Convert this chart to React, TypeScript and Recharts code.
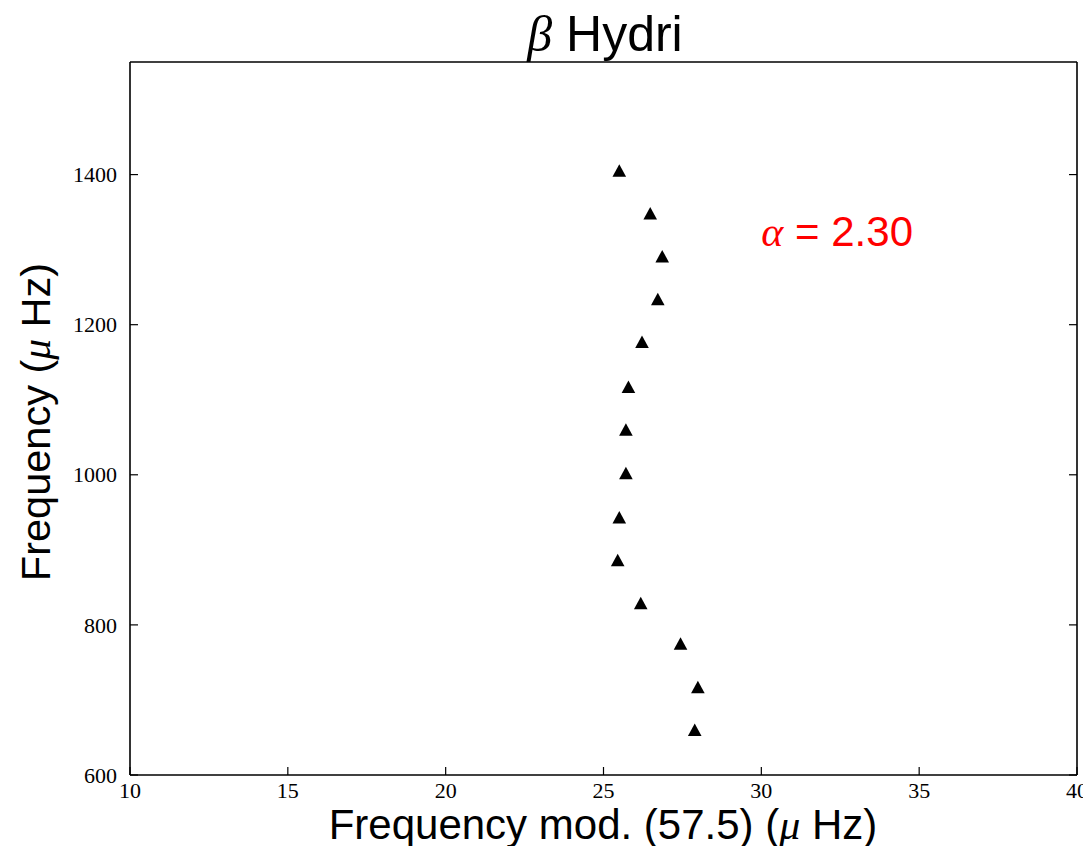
import React from 'react';
import { ScatterChart, Scatter, XAxis, YAxis, ReferenceDot } from 'recharts';

// frequency modulo large separation (x) vs frequency (y)
const modFreq = [25.5, 26.48, 26.86, 26.72, 26.22, 25.79, 25.71, 25.71, 25.5, 25.45, 26.18, 27.44, 27.99, 27.89];
const freq = [1405, 1348, 1291, 1234, 1177, 1117, 1060, 1002, 943, 886, 829, 775, 717, 660];

const xTicks = [10, 15, 20, 25, 30, 35, 40];
const yTicks = [600, 800, 1000, 1200, 1400];
const xDomain: [number, number] = [10, 40];
const yDomain: [number, number] = [600, 1550];

const alphaPos = { x: 30, y: 1305 };
const alphaValue = '2.30';

const W = 1091;
const H = 838;
const SANS = '"Liberation Sans", Arial, Helvetica, sans-serif';
const SERIF = '"Liberation Serif", "Times New Roman", serif';
const TICK_LEN = 8;

const points = modFreq.map((x, i) => ({ x, y: freq[i] }));

const axisLine = { stroke: '#000', strokeWidth: 1.6 };

// ticks point inward like matplotlib; tickSize is 0 so x/y sit on the spine
const BottomTick = ({ x, y, payload }: any) => (
  <g>
    <line x1={x} y1={y} x2={x} y2={y - TICK_LEN} stroke="#000" strokeWidth={1.2} />
    <text x={x} y={y + 23} textAnchor="middle" fontFamily={SERIF} fontSize={22} fill="#000">
      {payload.value}
    </text>
  </g>
);

const LeftTick = ({ x, y, payload }: any) => (
  <g>
    <line x1={x} y1={y} x2={x + TICK_LEN} y2={y} stroke="#000" strokeWidth={1.2} />
    <text x={x - 13} y={y} dy="0.35em" textAnchor="end" fontFamily={SERIF} fontSize={22} fill="#000">
      {payload.value}
    </text>
  </g>
);

const TopTick = ({ x, y }: any) => (
  <line x1={x} y1={y} x2={x} y2={y + TICK_LEN} stroke="#000" strokeWidth={1.2} />
);

const RightTick = ({ x, y }: any) => (
  <line x1={x} y1={y} x2={x - TICK_LEN} y2={y} stroke="#000" strokeWidth={1.2} />
);

const Triangle = (props: any) => {
  const { cx, cy } = props;
  if (cx == null || cy == null) return null;
  return <path d={`M${cx},${cy - 6.5} L${cx + 6.8},${cy + 6} L${cx - 6.8},${cy + 6} Z`} fill="#000" />;
};

const AlphaLabel = (props: any) => {
  const vb = props.viewBox || {};
  return (
    <text x={vb.x} y={vb.y} fill="#ff0000" fontSize={42} fontFamily={SANS}>
      <tspan fontFamily={SERIF} fontStyle="italic">α</tspan>
      <tspan> = {alphaValue}</tspan>
    </text>
  );
};

export default function App() {
  return (
    <div style={{ position: 'relative', width: W, height: H, marginLeft: -8 }}>
      <style>{'html,body{overflow:hidden} .recharts-surface{overflow:visible}'}</style>
      <ScatterChart width={W} height={H} margin={{ top: 34, right: 0, bottom: 0, left: 0 }}>
        <XAxis
          xAxisId="b" type="number" dataKey="x" domain={xDomain} ticks={xTicks}
          allowDataOverflow height={71} tickSize={0} tickMargin={0}
          tick={BottomTick} axisLine={axisLine} tickLine={false} interval={0}
        />
        <XAxis
          xAxisId="t" orientation="top" type="number" domain={xDomain} ticks={xTicks}
          allowDataOverflow height={20} tickSize={0} tickMargin={0}
          tick={TopTick} axisLine={axisLine} tickLine={false} interval={0}
        />
        <YAxis
          yAxisId="l" type="number" dataKey="y" domain={yDomain} ticks={yTicks}
          allowDataOverflow width={130} tickSize={0} tickMargin={0}
          tick={LeftTick} axisLine={axisLine} tickLine={false} interval={0}
        />
        <YAxis
          yAxisId="r" orientation="right" type="number" domain={yDomain} ticks={yTicks}
          allowDataOverflow width={14} tickSize={0} tickMargin={0}
          tick={RightTick} axisLine={axisLine} tickLine={false} interval={0}
        />
        <Scatter
          xAxisId="b" yAxisId="l" data={points} shape={<Triangle />}
          isAnimationActive={false}
        />
        <ReferenceDot
          xAxisId="b" yAxisId="l" x={alphaPos.x} y={alphaPos.y} r={0}
          fill="none" stroke="none" label={{ content: <AlphaLabel /> }}
        />
      </ScatterChart>
      <svg
        width={W} height={H}
        style={{ position: 'absolute', left: 0, top: 0, overflow: 'visible', pointerEvents: 'none' }}
      >
        <text x={605} y={43} textAnchor="middle" fontFamily={SANS} fontSize={50} fill="#000">
          <tspan fontFamily={SERIF} fontStyle="italic">β</tspan>
          <tspan> Hydri</tspan>
        </text>
        <text x={603} y={831} textAnchor="middle" fontFamily={SANS} fontSize={42} fill="#000">
          Frequency mod. (57.5) (<tspan fontFamily={SERIF} fontStyle="italic">μ</tspan> Hz)
        </text>
        <text
          x={50} y={414} textAnchor="middle" fontFamily={SANS} fontSize={41.5} fill="#000"
          transform="rotate(-90 50 414)"
        >
          Frequency (<tspan fontFamily={SERIF} fontStyle="italic">μ</tspan> Hz)
        </text>
      </svg>
    </div>
  );
}
